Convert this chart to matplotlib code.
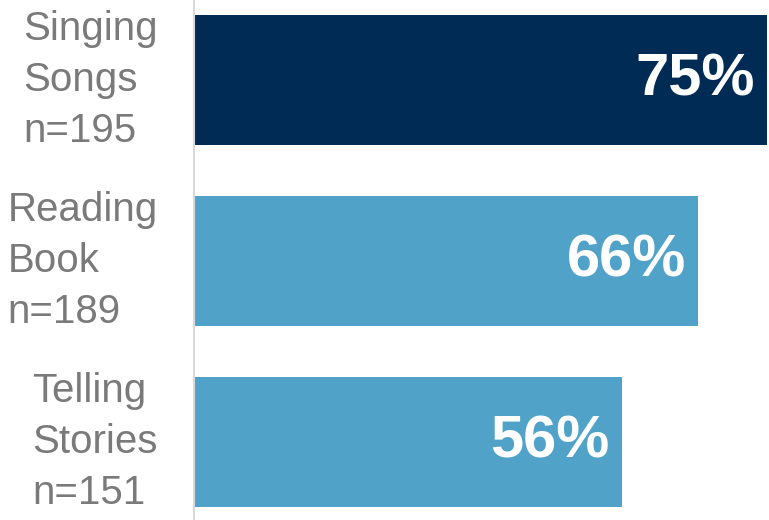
import matplotlib.pyplot as plt

labels = ['Singing\nSongs\nn=195', 'Reading\nBook\nn=189', 'Telling\nStories\nn=151']
values = [75, 66, 56]
colors = ['#002b55', '#50a2c9', '#50a2c9']

plt.rcParams['font.family'] = ['Liberation Sans', 'DejaVu Sans']

fig = plt.figure(figsize=(7.69, 5.2), dpi=100)
ax = fig.add_axes([194 / 769, 0, 575 / 769, 1])

y = range(len(values))
ax.barh(y, values, height=0.72, color=colors)

ax.set_xlim(0, 75.26)
ax.set_ylim(2.431, -0.442)

for i, (lab, v) in enumerate(zip(labels, values)):
    ax.text(-0.063, i, lab, transform=ax.get_yaxis_transform(),
            ha='right', va='center', multialignment='left',
            fontsize=29, color='#7a7a7a', linespacing=1.42)
    ax.text(v - 1.6, i, f'{v}%', ha='right', va='center',
            fontsize=43, fontweight='bold', color='white')

for s in ['top', 'right', 'bottom']:
    ax.spines[s].set_visible(False)
ax.spines['left'].set_color('#d9d9d9')
ax.spines['left'].set_linewidth(1.5)
ax.set_xticks([])
ax.set_yticks([])

plt.savefig('out.png', dpi=100)
